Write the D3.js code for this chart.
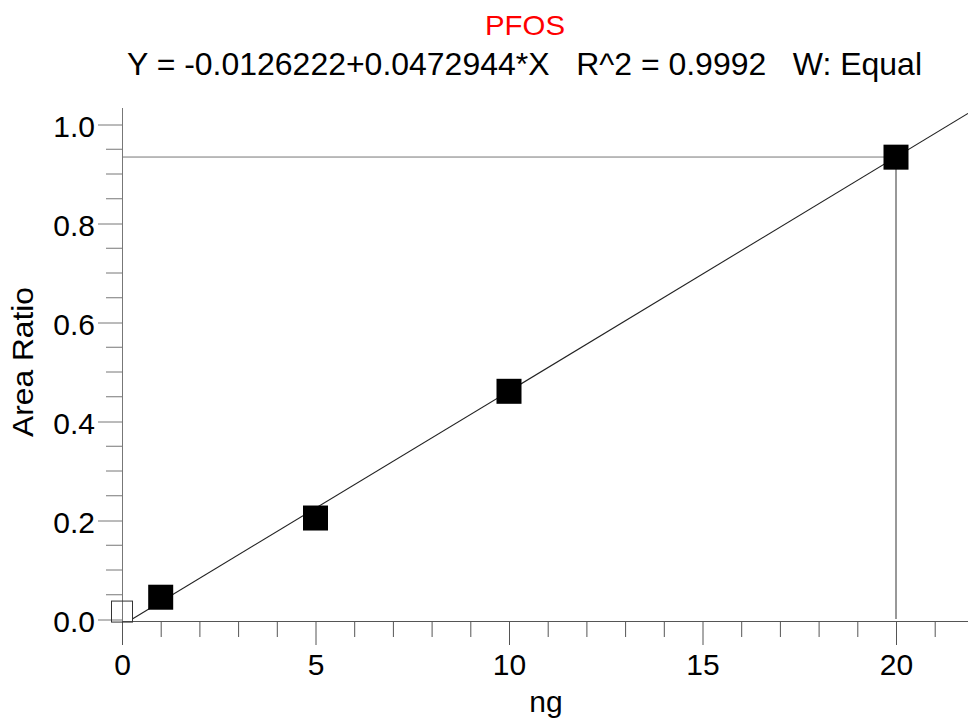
<!DOCTYPE html>
<html>
<head>
<meta charset="utf-8">
<script src="https://cdn.jsdelivr.net/npm/d3@7"></script>
<style>
	body { margin: 0; background: #fff; }
	svg { display: block; }
	text { font-family: "Liberation Sans", Arial, sans-serif; fill: #000; }
</style>
</head>
<body>
<svg id="chart" width="968" height="727"></svg>
<script>
'use strict';

// calibration points (ng, area ratio)
const amounts = [1, 5, 10, 20];
const ratios = [0.044, 0.204, 0.460, 0.933];
// blank / origin point, drawn open
const blankAmount = [0];
const blankRatio = [0.015];

// regression reported in the header
const intercept = -0.0126222;
const slope = 0.0472944;
const checkAmount = 20;

const xMajorTicks = [0, 5, 10, 15, 20];
const yMajorTicks = [0, 0.2, 0.4, 0.6, 0.8, 1.0];

const title = 'PFOS';
const equation = 'Y = -0.0126222+0.0472944*X   R^2 = 0.9992   W: Equal';

const width = 968, height = 727;
const svg = d3.select('#chart');

let x = d3.scaleLinear().domain([0, 20]).range([122, 896]),
	y = d3.scaleLinear().domain([0, 1]).range([619, 124]);
let xMax = x.invert(width),
	yTop = 108;

let fit = v => intercept + slope * v;

// minor ticks
let xMinor = d3.range(1, Math.floor(xMax) + 1).filter(d => d % 5 !== 0),
	yMinor = d3.range(0.05, 1.01, 0.05).filter(d => Math.abs(d * 5 - Math.round(d * 5)) > 1e-6);

// header
svg.append('text')
	.attr('x', 525).attr('y', 35)
	.attr('text-anchor', 'middle')
	.attr('textLength', 80)
	.attr('lengthAdjust', 'spacingAndGlyphs')
	.style('font-size', '28.5px')
	.style('fill', '#ff0000')
	.text(title);

svg.append('text')
	.attr('x', 127).attr('y', 75)
	.attr('textLength', 922 - 127)
	.attr('lengthAdjust', 'spacingAndGlyphs')
	.style('font-size', '32px')
	.style('white-space', 'pre')
	.text(equation);

// y axis
let yAxis = d3.axisLeft(y).tickValues(yMajorTicks).tickSize(24).tickPadding(3)
	.tickFormat(d3.format('.1f'));
let gy = svg.append('g').attr('transform', `translate(${x(0)},0)`).call(yAxis);
gy.select('.domain').remove();
gy.selectAll('.tick line').attr('stroke', '#777').attr('transform', 'translate(0,0.5)');
gy.selectAll('.tick text').attr('dy', '0.43em').style('font-size', '30px').attr('fill', '#000');
gy.selectAll('.minor').data(yMinor).enter().append('line')
	.attr('class', 'minor')
	.attr('x1', -16).attr('x2', 0)
	.attr('y1', d => y(d) + 0.5).attr('y2', d => y(d) + 0.5)
	.attr('stroke', '#777');
svg.append('line')
	.attr('x1', x(0) + 0.5).attr('x2', x(0) + 0.5)
	.attr('y1', yTop).attr('y2', y(0) + 2)
	.attr('stroke', '#777');

// x axis
let xAxis = d3.axisBottom(x).tickValues(xMajorTicks).tickSize(24).tickPadding(9)
	.tickFormat(d3.format('d'));
let gx = svg.append('g').attr('transform', `translate(0,${y(0) + 2})`).call(xAxis);
gx.select('.domain').remove();
gx.selectAll('.tick line').attr('stroke', '#555');
gx.selectAll('.tick text').style('font-size', '30px').attr('fill', '#000');
gx.selectAll('.minor').data(xMinor).enter().append('line')
	.attr('class', 'minor')
	.attr('x1', d => x(d) + 0.5).attr('x2', d => x(d) + 0.5)
	.attr('y1', 0).attr('y2', 16)
	.attr('stroke', '#555');
gx.append('line')
	.attr('x1', x(0)).attr('x2', width)
	.attr('y1', 0.5).attr('y2', 0.5)
	.attr('stroke', '#555');

// axis titles
svg.append('text')
	.attr('x', 546).attr('y', 712)
	.attr('text-anchor', 'middle')
	.style('font-size', '30px')
	.text('ng');
svg.append('text')
	.attr('transform', 'translate(33,362) rotate(-90)')
	.attr('text-anchor', 'middle')
	.attr('textLength', 150)
	.attr('lengthAdjust', 'spacingAndGlyphs')
	.style('font-size', '30px')
	.text('Area Ratio');

// check lines at the top standard
svg.append('line')
	.attr('x1', x(0)).attr('x2', x(checkAmount))
	.attr('y1', y(fit(checkAmount))).attr('y2', y(fit(checkAmount)))
	.attr('stroke', '#777');
svg.append('line')
	.attr('x1', x(checkAmount)).attr('x2', x(checkAmount))
	.attr('y1', y(fit(checkAmount))).attr('y2', y(0))
	.attr('stroke', '#333');

// regression line, starting where it crosses zero
let x0 = -intercept / slope;
let line = d3.line().x(d => x(d)).y(d => y(fit(d)));
svg.append('path')
	.datum([x0, xMax])
	.attr('d', line)
	.attr('fill', 'none')
	.attr('stroke', '#222')
	.attr('stroke-width', 1.1);

// blank point
svg.selectAll('.blank').data(blankAmount).enter().append('rect')
	.attr('class', 'blank')
	.attr('x', d => x(d) - 10.5)
	.attr('y', (d, i) => y(blankRatio[i]) - 10.5)
	.attr('width', 21).attr('height', 21)
	.attr('fill', 'none')
	.attr('stroke', '#333');

// standards
svg.selectAll('.pt').data(amounts).enter().append('rect')
	.attr('class', 'pt')
	.attr('x', d => x(d) - 12.5)
	.attr('y', (d, i) => y(ratios[i]) - 12.5)
	.attr('width', 25).attr('height', 25)
	.attr('fill', '#000');
</script>
</body>
</html>
